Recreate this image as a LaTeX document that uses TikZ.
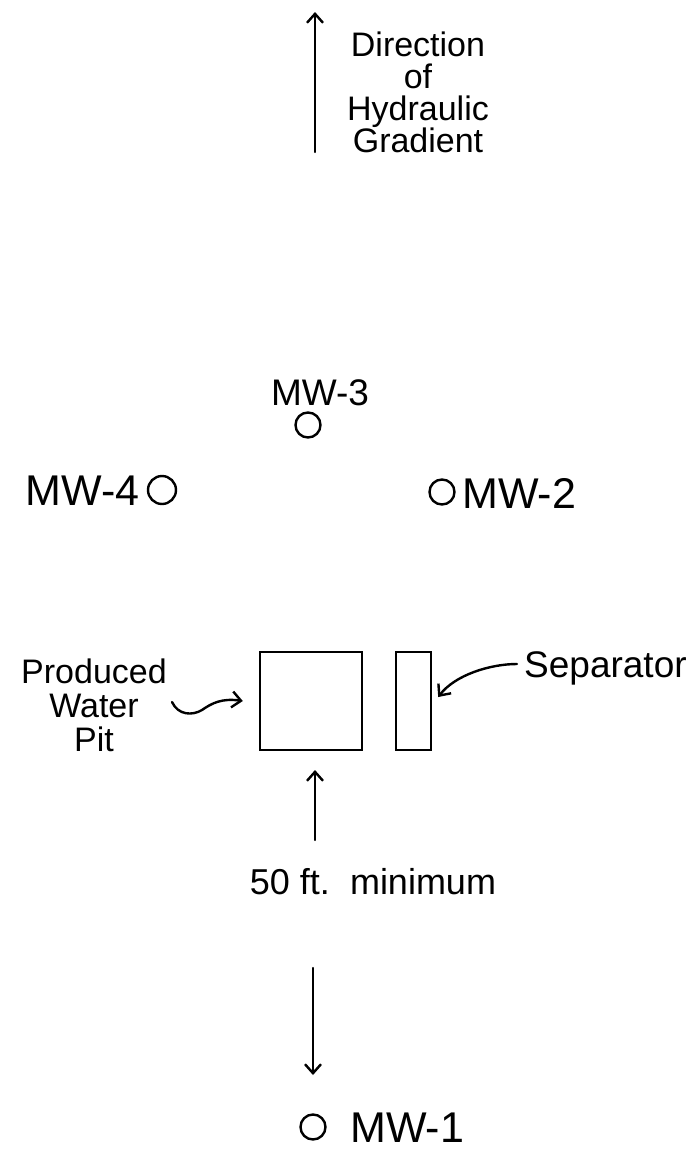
\documentclass[tikz,border=0pt]{standalone}
\usepackage{fontspec}
\setmainfont{Liberation Sans}
\usetikzlibrary{arrows.meta}
\begin{document}
\begin{tikzpicture}[x=1pt,y=-1pt,
  ink/.style={line width=2.4pt,line cap=round,line join=round},
  tip/.style={-{Straight Barb[length=9pt,width=16pt,line width=2.4pt]}},
  lbl/.style={font=\fontsize{34}{38}\selectfont,inner sep=0pt},
  mwl/.style={font=\fontsize{43}{46}\selectfont,inner sep=0pt},
  well/.style={draw,circle,line width=2.4pt,minimum size=25pt,inner sep=0pt},
  box/.style={draw,line width=2.4pt,inner sep=0pt}]
\useasboundingbox (0,0) rectangle (698,1151);
% gradient arrow
\coordinate (g0) at (315,152);
\coordinate (g1) at (315,12);
\draw[ink,tip] (g0) -- (g1);
\node[lbl,align=center] (grad) at (418,92) {Direction\\[-6pt]of\\[-6pt]Hydraulic\\[-6pt]Gradient};
% wells
\node[well] (mw3) at (308,425) {};
\node[mwl,font=\fontsize{37}{40}\selectfont,anchor=south] (mw3l) at (320,406) {MW-3};
\node[well,minimum size=28pt] (mw4) at (162,490) {};
\node[mwl,anchor=east] (mw4l) at (140,491) {MW-4};
\node[well] (mw2) at (442,492) {};
\node[mwl,anchor=west] (mw2l) at (462,493) {MW-2};
\node[well] (mw1) at (313,1127) {};
\node[mwl,anchor=west] (mw1l) at (350,1128) {MW-1};
% pit and separator
\node[box,minimum width=102pt,minimum height=98pt] (pit) at (311,701) {};
\node[box,minimum width=35pt,minimum height=98pt] (sep) at (413.5,701) {};
\node[lbl,align=center] (pitl) at (94,705) {Produced\\[-4pt]Water\\[-4pt]Pit};
\node[lbl,font=\fontsize{37}{40}\selectfont,anchor=west] (sepl) at (524,668) {Separator};
\coordinate (sq0) at (172,702);
\draw[ink,tip] (sq0) .. controls (178,715) and (192,716) .. (202,710) .. controls (212,703) and (222,698) .. ([xshift=-16pt]pit.west);
\coordinate (sc0) at (517,664);
\draw[ink,tip] (sc0) .. controls (490,664) and (455,675) .. ([xshift=6pt,yshift=4pt]sep.east);
% distance
\node[lbl,font=\fontsize{36}{40}\selectfont] (dist) at (373,882) {50 ft.\ \ minimum};
\coordinate (d0) at (315,840);
\coordinate (d1) at (315,770);
\draw[ink,tip] (d0) -- (d1);
\coordinate (e0) at (313,968);
\coordinate (e1) at (313,1075);
\draw[ink,tip] (e0) -- (e1);
\end{tikzpicture}
\end{document}
